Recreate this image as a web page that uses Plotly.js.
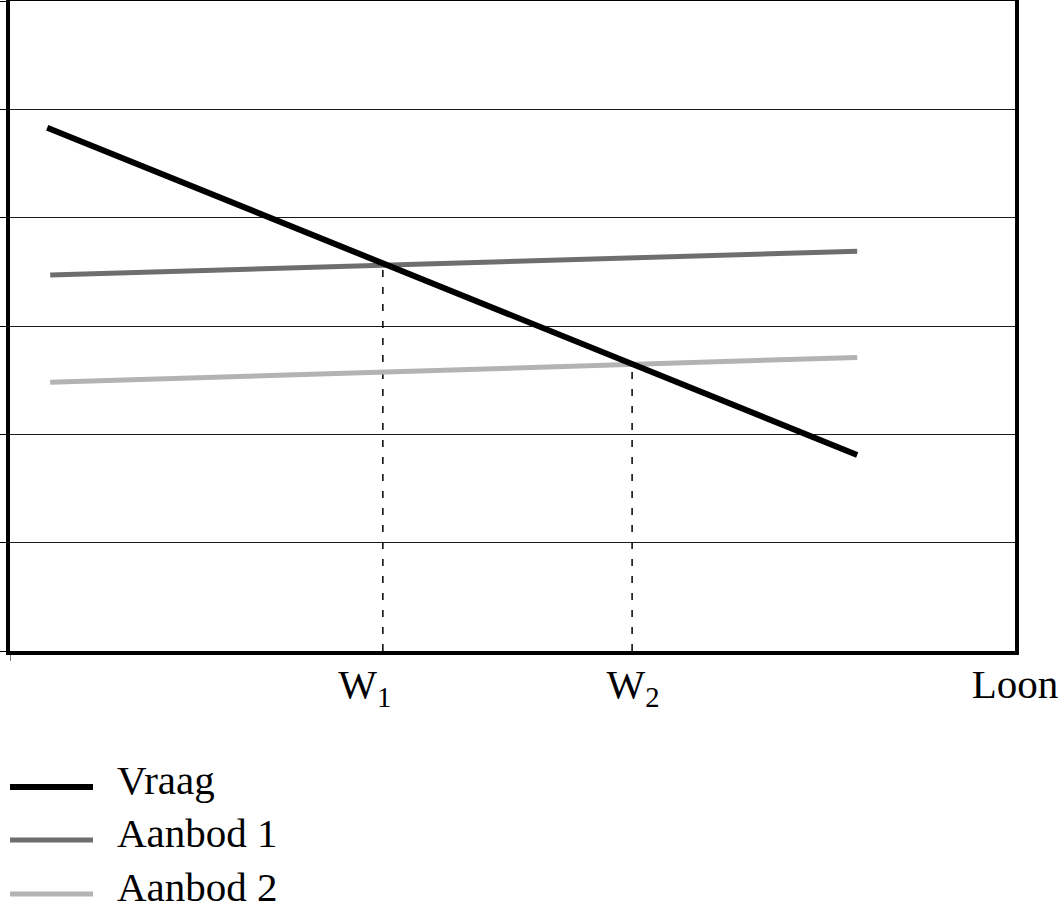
<!DOCTYPE html>
<html>
<head>
<meta charset="utf-8">
<script src="https://cdn.plot.ly/plotly-3.0.1.min.js"></script>
<style>html,body{margin:0;padding:0;background:#fff;}#chart{width:1062px;height:922px;}</style>
</head>
<body>
<div id="chart"></div>
<script>
// Data (abstract units: x = loon, y = quantity)
const seriesNames = ['Vraag', 'Aanbod 1', 'Aanbod 2'];
const vraagX = [0.37, 8.43];
const vraagY = [4.83, 1.81];
const aanbod1X = [0.40, 8.43];
const aanbod1Y = [3.47, 3.69];
const aanbod2X = [0.40, 8.43];
const aanbod2Y = [2.48, 2.71];
const w1 = 3.71, w1Y = 3.57;
const w2 = 6.19, w2Y = 2.65;
const tickVals = [3.53, 6.20, 10];
const tickText = ['W<sub>1</sub>', 'W<sub>2</sub>', 'Loon'];
const yTicks = [0, 1, 2, 3, 4, 5, 6];

const colors = ['#000000', '#6e6e6e', '#b3b3b3'];
const widths = [6, 5, 5];
const FONT = 'Liberation Serif';

const traces = [
  {x: [w1, w1], y: [0, w1Y], mode: 'lines', line: {color: '#000', width: 1.5, dash: '7px,10px'}, showlegend: false, hoverinfo: 'skip'},
  {x: [w2, w2], y: [0, w2Y], mode: 'lines', line: {color: '#000', width: 1.5, dash: '7px,10px'}, showlegend: false, hoverinfo: 'skip'},
  {x: aanbod1X, y: aanbod1Y, mode: 'lines', name: seriesNames[1], line: {color: colors[1], width: widths[1]}, showlegend: false},
  {x: aanbod2X, y: aanbod2Y, mode: 'lines', name: seriesNames[2], line: {color: colors[2], width: widths[2]}, showlegend: false},
  {x: vraagX, y: vraagY, mode: 'lines', name: seriesNames[0], line: {color: colors[0], width: widths[0]}, showlegend: false}
];

// layout helpers (pixel -> paper) for the hand-drawn legend
const L = 10, T = 1, W = 1005, H = 650;
const px = p => (p - L) / W;
const py = p => (T + H - p) / H;
const legendRowsY = [787, 840, 894];

const shapes = [
  {type: 'line', xref: 'x', x0: 0, x1: 0, yref: 'paper', ysizemode: 'pixel', yanchor: 0, y0: 0, y1: -10, line: {color: '#000', width: 1}}
];
const annotations = [];
seriesNames.forEach((n, i) => {
  shapes.push({type: 'line', xref: 'paper', yref: 'paper', x0: px(10), x1: px(93), y0: py(legendRowsY[i]), y1: py(legendRowsY[i]), line: {color: colors[i], width: widths[i]}});
  annotations.push({xref: 'paper', yref: 'paper', x: px(115), y: py(legendRowsY[i] - 7), xanchor: 'left', yanchor: 'middle', text: n, showarrow: false, font: {family: FONT, size: 41, color: '#000'}});
});

const layout = {
  width: 1062, height: 922,
  margin: {l: L, r: 1062 - L - W, t: T, b: 922 - T - H, autoexpand: false},
  paper_bgcolor: '#fff', plot_bgcolor: '#fff',
  font: {family: FONT, color: '#000', size: 41},
  showlegend: false,
  xaxis: {
    range: [0, 10], tickmode: 'array', tickvals: tickVals, ticktext: tickText,
    ticks: '', ticklen: 0, showgrid: false, zeroline: false,
    showline: true, linecolor: '#000', linewidth: 4, mirror: true,
    tickfont: {size: 41, family: FONT}, ticklabelstandoff: -6, fixedrange: true
  },
  yaxis: {
    range: [0, 6], tickmode: 'array', tickvals: yTicks, showticklabels: false,
    ticks: 'outside', ticklen: 8, tickwidth: 1, tickcolor: '#000',
    showgrid: true, gridcolor: '#1a1a1a', gridwidth: 1, zeroline: false,
    showline: true, linecolor: '#000', linewidth: 4, mirror: true, fixedrange: true
  },
  shapes: shapes,
  annotations: annotations
};

Plotly.newPlot('chart', traces, layout, {displayModeBar: false, staticPlot: true});
</script>
</body>
</html>
